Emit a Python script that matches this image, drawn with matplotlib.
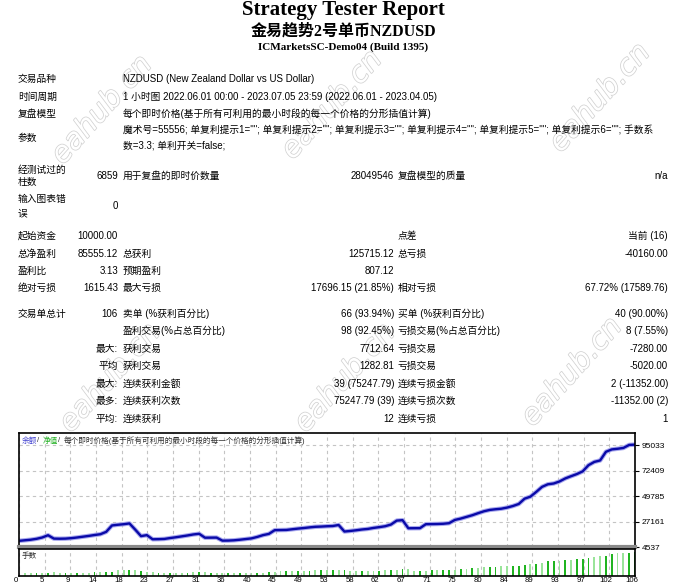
import numpy as np
import matplotlib
matplotlib.use("Agg")
import matplotlib.pyplot as plt
import matplotlib.patheffects as pe
from matplotlib.transforms import ScaledTranslation

# ---- report text ----
title = "Strategy Tester Report"
subtitle = "金易趋势2号单币NZDUSD"
server = "ICMarketsSC-Demo04 (Build 1395)"

info_labels = ["交易品种", "时间周期", "复盘模型", "参数"]
info_values = [
    "NZDUSD (New Zealand Dollar vs US Dollar)",
    "1 小时图 2022.06.01 00:00 - 2023.07.05 23:59 (2022.06.01 - 2023.04.05)",
    "每个即时价格(基于所有可利用的最小时段的每一个价格的分形插值计算)",
    "魔术号=55556; 单复利提示1=\"\"; 单复利提示2=\"\"; 单复利提示3=\"\"; 单复利提示4=\"\"; 单复利提示5=\"\"; 单复利提示6=\"\"; 手数系\n数=3.3; 单利开关=false;",
]

bars_tested = "6859"
ticks_label = "用于复盘的即时价数量"
ticks_count = "28049546"
quality_label = "复盘模型的质量"
quality = "n/a"
mismatch = "0"

stat_lab1 = ["起始资金", "总净盈利", "盈利比", "绝对亏损", "交易单总计", "", "", "", "", "", ""]
stat_val1 = ["10000.00", "85555.12", "3.13", "1615.43", "106", "", "最大:", "平均", "最大:", "最多:", "平均:"]
stat_lab2 = ["", "总获利", "预期盈利", "最大亏损", "卖单 (%获利百分比)", "盈利交易(%占总百分比)",
             "获利交易", "获利交易", "连续获利金额", "连续获利次数", "连续获利"]
stat_val2 = ["", "125715.12", "807.12", "17696.15 (21.85%)", "66 (93.94%)", "98 (92.45%)",
             "7712.64", "1282.81", "39 (75247.79)", "75247.79 (39)", "12"]
stat_lab3 = ["点差", "总亏损", "", "相对亏损", "买单 (%获利百分比)", "亏损交易(%占总百分比)",
             "亏损交易", "亏损交易", "连续亏损金额", "连续亏损次数", "连续亏损"]
stat_val3 = ["当前 (16)", "-40160.00", "", "67.72% (17589.76)", "40 (90.00%)", "8 (7.55%)",
             "-7280.00", "-5020.00", "2 (-11352.00)", "-11352.00 (2)", "1"]

# ---- chart data (balance after each trade, lots per trade) ----
balance = [10000, 10500, 11000, 11800, 13000, 15000, 12000, 11900, 12000, 12400,
           13000, 13700, 14400, 15200, 15900, 18000, 23700, 24300, 24800, 25500,
           20000, 14200, 15100, 11400, 11500, 11700, 12500, 13200, 14000, 14800,
           15700, 16300, 12800, 12850, 12900, 10200, 10250, 10500, 11000, 11600,
           12200, 13500, 15100, 16200, 19500, 19600, 19700, 20300, 20900, 21400,
           22000, 22500, 22700, 23000, 23200, 24100, 18300, 18800, 19400, 20100,
           20600, 21500, 22200, 23000, 24500, 28000, 28400, 21200, 21250, 21300,
           24800, 24900, 25000, 25200, 25700, 28600, 29800, 31300, 32800, 34600,
           36300, 37500, 38100, 38600, 39600, 41000, 42800, 47500, 49300, 53500,
           58000, 60300, 61000, 62800, 65500, 67500, 69400, 71800, 77300, 80200,
           81500, 89200, 91300, 91900, 92600, 95300, 95555.12]

lots = [0.33, 0.35, 0.36, 0.39, 0.43, 0.50, 0.40, 0.39, 0.40, 0.41,
        0.43, 0.45, 0.48, 0.50, 0.52, 0.59, 0.78, 0.80, 0.82, 0.84,
        0.66, 0.47, 0.50, 0.38, 0.38, 0.39, 0.41, 0.44, 0.46, 0.49,
        0.52, 0.54, 0.42, 0.42, 0.43, 0.34, 0.34, 0.35, 0.36, 0.38,
        0.40, 0.45, 0.50, 0.53, 0.64, 0.65, 0.65, 0.67, 0.69, 0.71,
        0.73, 0.74, 0.75, 0.76, 0.77, 0.80, 0.60, 0.62, 0.64, 0.66,
        0.68, 0.71, 0.73, 0.76, 0.81, 0.92, 0.94, 0.70, 0.70, 0.70,
        0.82, 0.82, 0.83, 0.83, 0.85, 0.94, 0.98, 1.03, 1.08, 1.14,
        1.20, 1.24, 1.26, 1.27, 1.31, 1.35, 1.41, 1.57, 1.63, 1.77,
        1.91, 1.99, 2.01, 2.07, 2.16, 2.23, 2.29, 2.37, 2.55, 2.65,
        2.67, 2.94, 3.01, 3.03, 3.06, 3.15]
lot_shade = ("LLDLDLLDLDLLDLDDLLDL" "DLLDLDLLDLDLDLLDLDLL" "DLDLLDLDLDLDLDLDLLDL"
             "LDLDLDLLDLDLDDLDLDL" "LDDLLDDDLDLDDLDLDDDLLDDLLDD")

y_ticks = [4537, 27161, 49785, 72409, 95033]
x_labels = ["0", "5", "9", "14", "18", "23", "27", "31", "36", "40", "45", "49", "53",
            "58", "62", "67", "71", "75", "80", "84", "89", "93", "97", "102", "106"]

W, H = 680, 584
CJK = ["Liberation Sans", "Noto Sans CJK SC"]
SERIF = ["Liberation Serif", "Noto Sans CJK SC"]

fig = plt.figure(figsize=(W / 100, H / 100), dpi=100)


def put(x, y, s, ha="left", size=7, family=CJK, **kw):
    return fig.text(x / W, 1 - y / H, s, ha=ha, va="center", fontsize=size, family=family, **kw)


# watermarks
for wx, wy in [(102, 110), (332, 105), (600, 98), (110, 378), (345, 378), (572, 372)]:
    put(wx, wy, "eahub.cn", ha="center", size=21, family="DejaVu Sans", rotation=48,
        color="white", style="italic", zorder=0,
        path_effects=[pe.withStroke(linewidth=1.1, foreground="#d2d2d2")])

# header
put(343, 10, title, ha="center", size=15, family=SERIF, weight="bold")
put(343, 32, subtitle, ha="center", size=11.5, family=SERIF, weight="bold")
put(343, 47, server, ha="center", size=8, family=SERIF, weight="bold")

# test info
for lab, val, yy in zip(info_labels, info_values, [79, 97, 114, 138]):
    put(18, yy, lab)
    put(123, yy, val, linespacing=1.55)
put(18, 176, "经测试过的\n柱数", linespacing=1.3)
put(118, 176, bars_tested, ha="right")
put(123, 176, ticks_label)
put(394, 176, ticks_count, ha="right")
put(398, 176, quality_label)
put(668, 176, quality, ha="right")
put(18, 206, "输入图表错\n误", linespacing=1.5)
put(118, 206, mismatch, ha="right")

# stats table
stat_y = [236, 254, 271, 288, 314, 331, 349, 366, 384, 401, 419]
for i, yy in enumerate(stat_y):
    put(18, yy, stat_lab1[i])
    put(118, yy, stat_val1[i], ha="right")
    put(123, yy, stat_lab2[i])
    put(394, yy, stat_val2[i], ha="right")
    put(398, yy, stat_lab3[i])
    put(668, yy, stat_val3[i], ha="right")

# chart panels
x0, x1 = 19, 635
ax1 = fig.add_axes([x0 / W, 1 - 547 / H, (x1 - x0) / W, (547 - 433) / H])
ax2 = fig.add_axes([x0 / W, 1 - 576 / H, (x1 - x0) / W, (576 - 549) / H])

trades = np.arange(len(balance))
ax1.plot(trades, balance, color="#a8a8ee", lw=3.2, solid_capstyle="round")
ax1.plot(trades, balance, color="#0a0aa8", lw=1.7)
ax1.set_xlim(0, 106)
ax1.set_ylim(4537, 105900)

xt = np.linspace(0, 106, len(x_labels))
for ax in (ax1, ax2):
    ax.set_xticks(xt)
    ax.grid(True, ls=(0, (3, 3)), color="#c4c4c4", lw=0.8)
    ax.set_axisbelow(True)
    for sp in ax.spines.values():
        sp.set_color("black")
        sp.set_linewidth(1.2)

ax1.set_yticks(y_ticks)
ax1.yaxis.tick_right()
ax1.set_yticklabels([str(v) for v in y_ticks], fontsize=6, family="Liberation Sans")
ax1.tick_params(axis="y", length=3, pad=2)
ax1.tick_params(axis="x", length=0, labelbottom=False)
ax1.spines["bottom"].set_color("#8a8a8a")
ax1.spines["bottom"].set_linewidth(3)

shade_col = {"L": "#9ae49a", "D": "#20b420"}
ax2.bar(trades[1:], lots, width=0.32, color=[shade_col[c] for c in lot_shade])
ax2.set_xlim(0, 106)
ax2.set_ylim(0, 3.55)
ax2.set_yticks([])
ax2.set_xticklabels(x_labels, fontsize=5.6, family="Liberation Sans")
ax2.tick_params(axis="x", length=0, pad=0.6)
shift = ScaledTranslation(-3 / 100, 0, fig.dpi_scale_trans)
for lbl in ax2.get_xticklabels():
    lbl.set_transform(lbl.get_transform() + shift)

# legend line inside the upper panel
put(22, 441, "余额", size=5.5, color="#4040d0")
put(37, 441, "/", size=5.5, color="#303030")
put(43, 441, "净值", size=5.5, color="#20b020")
put(58, 441, "/", size=5.5, color="#303030")
put(64, 441, "每个即时价格(基于所有可利用的最小时段的每一个价格的分形插值计算)", size=5.5, color="#303030")
put(22, 556, "手数", size=5.5, color="#303030")

fig.savefig("out.png", dpi=100)
